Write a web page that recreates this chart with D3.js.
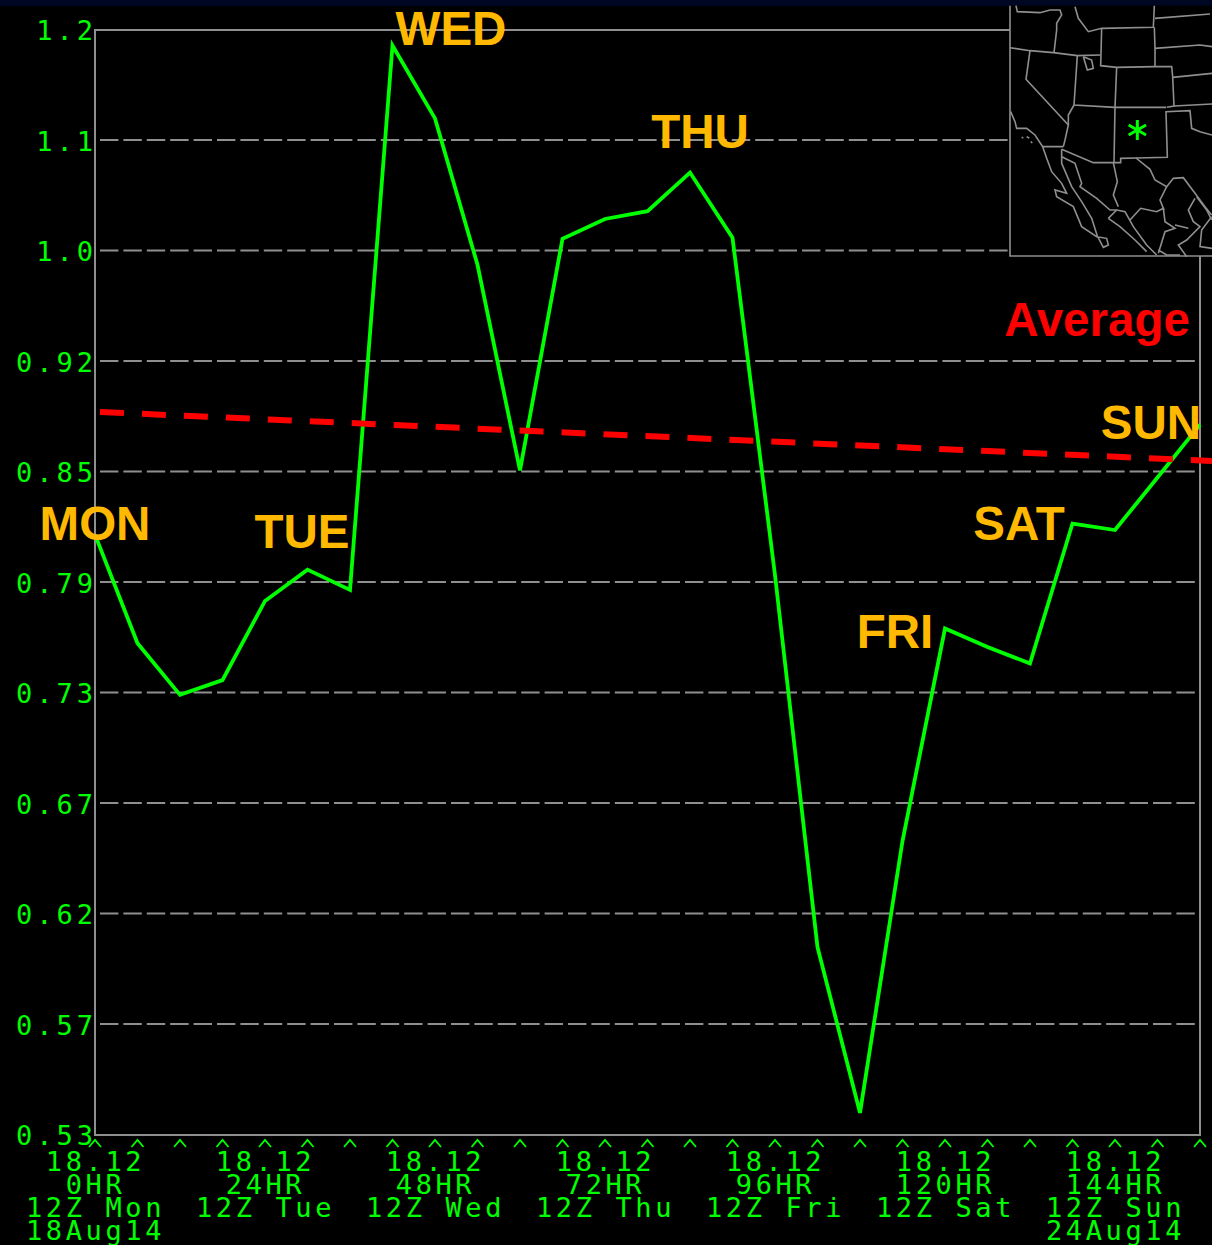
<!DOCTYPE html>
<html><head><meta charset="utf-8">
<script src="https://cdn.jsdelivr.net/npm/d3@7"></script>
<style>html,body{margin:0;padding:0;background:#000;overflow:hidden}svg{display:block}</style>
</head><body><svg id="c" width="1212" height="1245"></svg>
<script>
const yTicks=[1.2,1.1,1.0,0.92,0.85,0.79,0.73,0.67,0.62,0.57,0.53];
const yTickLabels=["1.2","1.1","1.0","0.92","0.85","0.79","0.73","0.67","0.62","0.57","0.53"];
const hours=d3.range(0,157,6);
const values=[0.816,0.757,0.729,0.737,0.780,0.797,0.786,1.186,1.120,0.990,0.851,1.011,1.029,1.036,1.071,1.012,0.794,0.605,0.538,0.653,0.765,0.755,0.746,0.822,0.8185,0.847,0.880];
const avgHours=[0.7,157.7];
const avgValues=[0.888,0.857];
const xLabelHours=[0,24,48,72,96,120,144];
const xLine1=["18.12","18.12","18.12","18.12","18.12","18.12","18.12"];
const xLine2=["0HR","24HR","48HR","72HR","96HR","120HR","144HR"];
const xLine3=["12Z Mon","12Z Tue","12Z Wed","12Z Thu","12Z Fri","12Z Sat","12Z Sun"];
const xLine4=["18Aug14","","","","","","24Aug14"];
const dayLabels=["MON","TUE","WED","THU","FRI","SAT","SUN"];
const mapLines=[
[[48,17],[52,35],[120,38],[150,30],[180,30],[185,45],[170,70],[170,90],[162,158]],
[[30,143],[90,152],[160,158],[232,167],[300,165]],
[[90,152],[78,238],[205,375],[195,420],[190,440]],
[[32,335],[45,365],[50,385],[80,385],[105,405],[128,440],[190,440]],
[[232,167],[222,315],[345,322],[498,322]],
[[222,315],[205,345],[205,375]],
[[225,20],[235,55],[265,95],[305,85],[460,82],[463,17]],
[[305,85],[302,197],[350,202],[465,200],[515,200],[518,230],[522,318],[500,322]],
[[345,322],[350,202]],
[[465,200],[465,145],[463,82]],
[[465,55],[630,42]],
[[465,145],[600,135],[636,140]],
[[518,232],[636,220]],
[[522,318],[636,312]],
[[345,322],[342,488]],
[[185,448],[280,488],[340,488],[362,488],[362,475],[408,474],[502,472],[498,335],[570,332],[575,385],[600,395],[636,405]],
[[408,474],[450,508],[465,540],[500,560],[520,535],[550,533],[585,580],[615,620],[635,645]],
[[128,440],[140,475],[155,515],[185,550],[200,580],[165,570],[170,590],[220,620],[245,680],[290,710],[320,715],[325,735],[310,742],[292,708],[275,655],[245,605],[215,560],[185,490],[185,448]],
[[185,470],[225,490],[245,550],[240,560],[290,595],[330,630],[350,630],[375,635],[400,680],[440,735],[470,765]],
[[325,655],[350,630]],
[[325,655],[360,680],[405,720],[440,755]],
[[340,488],[352,545],[340,585],[355,620]],
[[390,660],[422,625],[470,635],[490,625],[495,665],[525,685],[495,695],[475,760]],
[[500,560],[480,600],[492,630]],
[[525,675],[565,685]],
[[585,595],[565,630],[580,665],[600,680],[560,720],[535,735],[560,770]],
[[590,590],[620,630],[635,660]],
[[635,650],[605,690],[600,740],[636,745]],
[[475,750],[500,765],[540,765]],
[[250,170],[275,180],[280,205],[262,210],[250,170]],
[[65,412],[70,414]],[[80,410],[88,414]],[[92,425],[97,429]]
];
const mapFrame=[[30,17],[30,768],[636,768]];
const stationMark=[412,390];

const svg=d3.select("#c");
const L=95,R=1200,T=30,B=1135;
const GRAY="#8f8f8f",GREEN="#00ff00",ORANGE="#ffb900",RED="#ff0000";
const mono="'DejaVu Sans Mono',monospace";
const x=d3.scaleLinear().domain([0,156]).range([L,R]);
const tickPos=d3.scalePoint().domain(d3.range(yTicks.length)).range([T,B]);
const y=d3.scaleLinear().domain(yTicks).range(yTicks.map((d,i)=>tickPos(i)));

svg.append("rect").attr("width",1212).attr("height",1245).attr("fill","#000");
svg.append("rect").attr("width",1212).attr("height",6).attr("fill","#000722");

// grid
svg.append("g").selectAll("line").data(yTicks.slice(1,-1)).join("line")
 .attr("x1",L+5).attr("x2",R-5).attr("y1",d=>y(d)-0.5).attr("y2",d=>y(d)-0.5)
 .attr("stroke",GRAY).attr("stroke-width",2).attr("stroke-dasharray","18.4 5");
// frame
svg.append("rect").attr("x",L).attr("y",T).attr("width",R-L).attr("height",B-T)
 .attr("fill","none").attr("stroke",GRAY).attr("stroke-width",2);

// y labels
svg.append("g").selectAll("text").data(yTicks).join("text")
 .attr("x",L+2).attr("y",d=>y(d)+10).attr("text-anchor","end")
 .attr("font-family",mono).attr("font-size",27).attr("letter-spacing",4).attr("fill",GREEN)
 .text((d,i)=>yTickLabels[i]);

// carets
svg.append("g").selectAll("path").data(hours).join("path")
 .attr("d",d=>{const a=x(d);return d3.line()([[a-6,1147],[a,1140],[a+6,1147]]);})
 .attr("fill","none").attr("stroke",GREEN).attr("stroke-width",1.8);

// x labels
[[xLine1,1171],[xLine2,1194],[xLine3,1217],[xLine4,1240]].forEach(([arr,by])=>{
 svg.append("g").selectAll("text").data(xLabelHours).join("text")
  .attr("x",d=>x(d)+0.5).attr("y",by).attr("text-anchor","middle")
  .attr("font-family",mono).attr("font-size",27).attr("letter-spacing",3.6).attr("fill",GREEN)
  .text((d,i)=>arr[i]);
});

// series
const line=d3.line().x(d=>x(d[0])).y(d=>y(d[1]));
svg.append("path").attr("d",line(hours.map((h,i)=>[h,values[i]])))
 .attr("fill","none").attr("stroke",GREEN).attr("stroke-width",3.8).attr("stroke-linejoin","miter");
svg.append("path").attr("d",line(avgHours.map((h,i)=>[h,avgValues[i]])))
 .attr("fill","none").attr("stroke",RED).attr("stroke-width",6).attr("stroke-dasharray","24 18");

// inset map
const mx=d3.scaleLinear().domain([0,636]).range([1000,1212]);
const my=d3.scaleLinear().domain([0,795]).range([0,265]);
const mline=d3.line().x(d=>mx(d[0])).y(d=>my(d[1]));
svg.append("rect").attr("x",mx(30)).attr("y",my(17)).attr("width",1212-mx(30)).attr("height",my(768)-my(17)).attr("fill","#000");
svg.append("g").selectAll("path").data(mapLines.concat([mapFrame])).join("path")
 .attr("d",mline).attr("fill","none").attr("stroke",GRAY).attr("stroke-width",1.6);
svg.append("path").attr("d",d3.symbol(d3.symbolAsterisk,285)())
 .attr("transform",`translate(${mx(stationMark[0])},${my(stationMark[1])})`)
 .attr("fill","none").attr("stroke",GREEN).attr("stroke-width",3);

// annotations
const labelPos={MON:[95,540],TUE:[302,548],WED:[451,45],THU:[700,148],FRI:[895,648],SAT:[1019,540],SUN:[1151,439]};
function ann(t,p,col){svg.append("text").attr("x",p[0]).attr("y",p[1])
 .attr("font-family","'Liberation Sans',Arial,sans-serif").attr("font-weight","bold").attr("font-size",47.5)
 .attr("text-anchor","middle").attr("fill",col).text(t);}
dayLabels.forEach(d=>ann(d,labelPos[d],ORANGE));
ann("Average",[1097,336],RED);
</script></body></html>
